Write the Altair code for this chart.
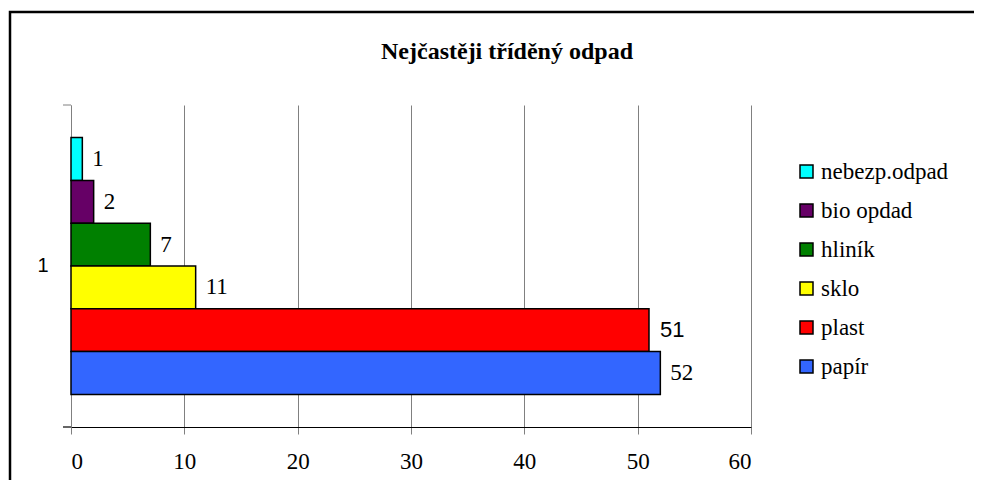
import altair as alt
import pandas as pd

# ---- data ----
series = ["nebezp.odpad", "bio opdad", "hliník", "sklo", "plast", "papír"]
values = [1, 2, 7, 11, 51, 52]
group_label = ["1", "1", "1", "1", "1", "1"]
colors = ["#00FFFF", "#660066", "#008000", "#FFFF00", "#FF0000", "#3366FF"]
x_ticks = [0, 10, 20, 30, 40, 50, 60]
title_text = "Nejčastěji tříděný odpad"

df = pd.DataFrame({"series": series, "value": values, "group": group_label})
tdf = pd.DataFrame({"t": [title_text]})

W, H = 680, 322

x_enc = alt.X(
    "value:Q",
    scale=alt.Scale(domain=[0, 60], nice=False),
    axis=alt.Axis(
        values=x_ticks, title=None, grid=True, gridColor="#808080", gridWidth=1,
        tickSize=7, tickColor="#808080", domainColor="black", domainWidth=1.2,
        labelFont="Liberation Serif", labelFontSize=23, labelPadding=16,
        labelColor="black",
    ),
)
y_enc = alt.Y(
    "group:N",
    scale=alt.Scale(paddingOuter=0.127, paddingInner=0),
    axis=alt.Axis(
        title=None, ticks=False, domainColor="#808080",
        labelFont="Liberation Sans", labelFontSize=20, labelPadding=23,
        labelColor="black", labelAngle=0,
    ),
)
yoff_enc = alt.YOffset("series:N", sort=series,
                       scale=alt.Scale(paddingInner=0, paddingOuter=0))

base = alt.Chart(df)

bars = base.mark_bar(stroke="black", strokeWidth=1.5).encode(
    x=x_enc, y=y_enc, yOffset=yoff_enc,
    color=alt.Color(
        "series:N", sort=series,
        scale=alt.Scale(domain=series, range=colors),
        legend=alt.Legend(
            title=None, orient="none", legendX=724, legendY=55,
            direction="vertical", symbolType="square", symbolSize=169,
            symbolStrokeColor="black", symbolStrokeWidth=1.5, symbolOpacity=1,
            labelFont="Liberation Serif", labelFontSize=23, labelOffset=3,
            labelColor="black", rowPadding=15,
        ),
    ),
)

labels_serif = base.transform_filter(alt.datum.series != "plast").mark_text(
    align="left", baseline="middle", dx=10,
    font="Liberation Serif", fontSize=23, color="black",
).encode(x="value:Q", y="group:N", yOffset=yoff_enc, text="value:Q")

labels_sans = base.transform_filter(alt.datum.series == "plast").mark_text(
    align="left", baseline="middle", dx=11,
    font="Liberation Sans", fontSize=22, color="black",
).encode(x="value:Q", y="group:N", yOffset=yoff_enc, text="value:Q")

title = alt.Chart(tdf).mark_text(
    font="Liberation Serif", fontWeight="bold", fontSize=24,
    align="center", baseline="alphabetic", color="black",
).encode(x=alt.value(436), y=alt.value(-46.5), text="t:N")

frame = alt.Chart(tdf).mark_rect(
    fillOpacity=0, stroke="black", strokeWidth=2.5,
).encode(x=alt.value(-61), x2=alt.value(2000), y=alt.value(-93), y2=alt.value(2000))

tick_top = alt.Chart(tdf).mark_rule(color="#808080", strokeWidth=1).encode(
    x=alt.value(-8), x2=alt.value(0), y=alt.value(0))
tick_bottom = alt.Chart(tdf).mark_rule(color="black", strokeWidth=1.2).encode(
    x=alt.value(-8), x2=alt.value(0), y=alt.value(H))

chart = alt.layer(
    frame, bars, labels_serif, labels_sans, title, tick_top, tick_bottom
).properties(
    width=W, height=H,
    autosize=alt.AutoSizeParams(type="none"),
    padding={"left": 63, "top": 97, "right": 223, "bottom": 53},
    background="white",
).configure_view(stroke=None)

chart.save("out.html", embed_options={"renderer": "svg", "actions": False})
